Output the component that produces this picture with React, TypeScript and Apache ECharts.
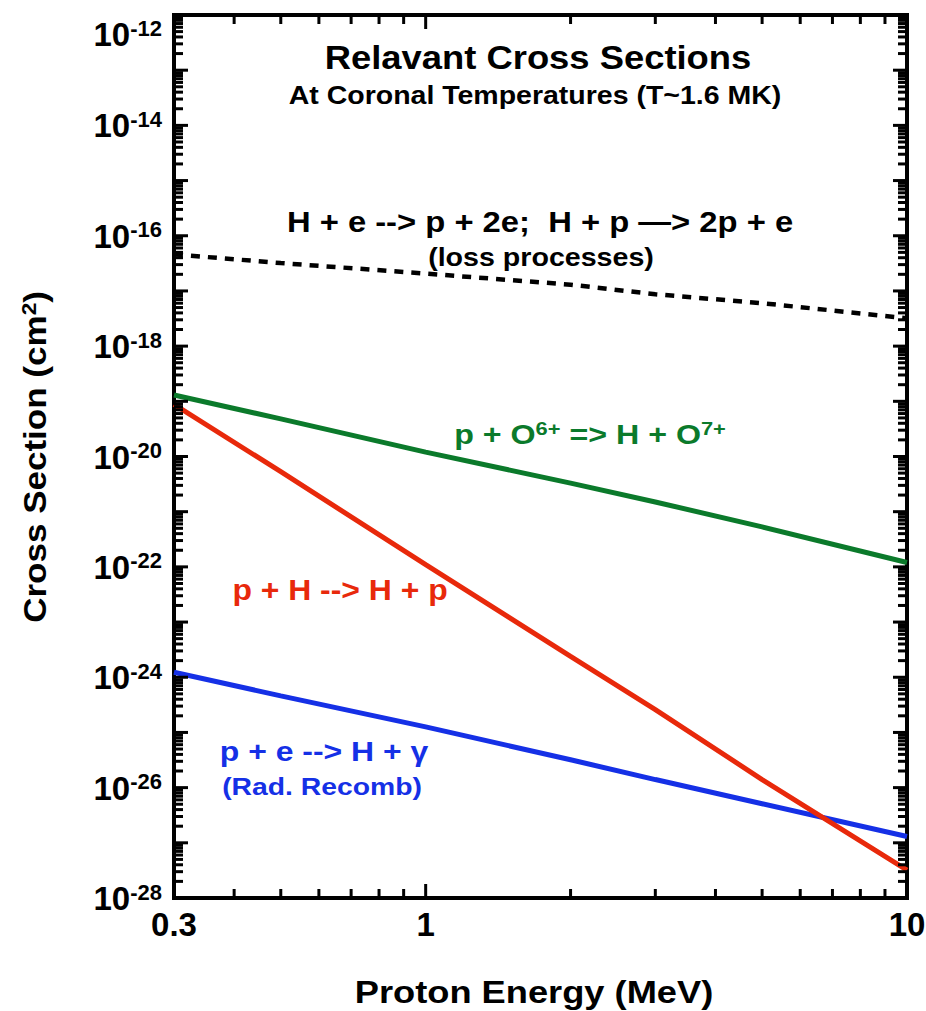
import React, { useEffect, useRef } from 'react';
import * as echarts from 'echarts';

const FONT = "'Liberation Sans', Arial, Helvetica, sans-serif";

// Axis ranges (real values; axes are drawn in log10 space)
const X_MIN = 0.3;
const X_MAX = 10;
const Y_MIN = 1e-28;
const Y_MAX = 1e-12;

// Tick labels
const X_TICK_LABELS = [0.3, 1, 10];
const Y_LABEL_EXPONENTS = [-28, -26, -24, -22, -20, -18, -16, -14, -12];

// Tick marks
const X_MAJOR_TICKS = [1];
const X_MINOR_TICKS = [0.4, 0.5, 0.6, 0.7, 0.8, 0.9, 2, 3, 4, 5, 6, 7, 8, 9];
const Y_DECADES = [-28, -27, -26, -25, -24, -23, -22, -21, -20, -19, -18, -17, -16, -15, -14, -13, -12];
const MINOR_MULTIPLIERS = [2, 3, 4, 5, 6, 7, 8, 9];

// Series values (Proton energy in MeV, cross sections in cm^2)
const ENERGY = [0.3, 0.5, 1, 2, 3, 5, 10];
const LOSS = [4.6e-17, 3.2e-17, 2.06e-17, 1.3e-17, 8.7e-18, 6.0e-18, 3.2e-18];
const O6_CX = [1.3e-19, 4.8e-20, 1.2e-20, 3.3e-21, 1.5e-21, 5.3e-22, 1.2e-22];
const H_CX = [8.8e-20, 5.3e-21, 1.1e-22, 2.4e-24, 2.6e-25, 1.4e-26, 3.2e-28];
const RAD_RECOMB = [1.23e-24, 4.6e-25, 1.26e-25, 3.2e-26, 1.4e-26, 5.1e-27, 1.3e-27];

const GREEN = '#0b7a2b';
const RED = '#e8290b';
const BLUE = '#1530e6';

const lg = Math.log10;
const pairs = (ys: number[]) => ENERGY.map((e, i) => [lg(e), lg(ys[i])]);

const MAJOR_LEN = 14;
const MINOR_LEN = 9;

// Tick descriptors: [value in log10, length]
function xTickList() {
  const d: number[][] = [];
  X_MAJOR_TICKS.forEach((v) => d.push([lg(v), MAJOR_LEN]));
  X_MINOR_TICKS.forEach((v) => d.push([lg(v), MINOR_LEN]));
  return d;
}
function yTickList() {
  const d: number[][] = [];
  Y_DECADES.forEach((e) => {
    d.push([e, MAJOR_LEN]);
    if (e < -12) MINOR_MULTIPLIERS.forEach((m) => d.push([e + lg(m), MINOR_LEN]));
  });
  return d;
}

const tickRenderer = (params: any, api: any) => {
  const cs = params.coordSys;
  const st = { stroke: '#000', lineWidth: 3 };
  const children: any[] = [];
  const bottom = cs.y + cs.height;
  const right = cs.x + cs.width;
  xTickList().forEach(([v, len]) => {
    const x = api.coord([v, lg(Y_MIN)])[0];
    children.push({ type: 'line', shape: { x1: x, y1: bottom, x2: x, y2: bottom - len }, style: st });
    children.push({ type: 'line', shape: { x1: x, y1: cs.y, x2: x, y2: cs.y + len }, style: st });
  });
  yTickList().forEach(([v, len]) => {
    const y = api.coord([lg(X_MIN), v])[1];
    children.push({ type: 'line', shape: { x1: cs.x, y1: y, x2: cs.x + len, y2: y }, style: st });
    children.push({ type: 'line', shape: { x1: right, y1: y, x2: right - len, y2: y }, style: st });
  });
  return { type: 'group', children };
};

function txt(text: string, x: number, y: number, size: number, color: string, scaleX: number, extra: any = {}) {
  return {
    type: 'text',
    x,
    y,
    scaleX,
    z: 100,
    silent: true,
    ...extra,
    style: {
      text,
      fontSize: size,
      fontWeight: 'bold',
      fontFamily: FONT,
      fill: color,
      align: 'center',
      verticalAlign: 'middle',
      ...(extra.style || {}),
    },
  };
}

export default function App() {
  const ref = useRef<HTMLDivElement>(null);
  useEffect(() => {
    const chart = echarts.init(ref.current!, null, { renderer: 'svg' });
    const labelRich = {
      b: { fontSize: 33, fontWeight: 'bold', fontFamily: FONT, color: '#000', lineHeight: 34, verticalAlign: 'bottom' },
      s: { fontSize: 22, fontWeight: 'bold', fontFamily: FONT, color: '#000', lineHeight: 22, verticalAlign: 'top' },
      gap: { fontSize: 10, lineHeight: 38 },
    };
    const option: any = {
      animation: false,
      backgroundColor: '#fff',
      grid: {
        left: 174,
        right: 19,
        top: 15,
        bottom: 113,
        containLabel: false,
        outerBoundsMode: 'none',
        show: true,
        borderColor: '#000',
        borderWidth: 4,
        backgroundColor: 'transparent',
      },
      xAxis: {
        type: 'value',
        min: lg(X_MIN),
        max: lg(X_MAX),
        axisLine: { show: false },
        axisTick: { show: false },
        splitLine: { show: false },
        axisLabel: {
          margin: 10,
          fontSize: 33,
          fontWeight: 'bold',
          fontFamily: FONT,
          color: '#000',
          showMinLabel: true,
          showMaxLabel: true,
          formatter: (v: number) => {
            const m = X_TICK_LABELS.find((l) => Math.abs(lg(l) - v) < 1e-4);
            return m !== undefined ? String(m) : '';
          },
        },
      },
      yAxis: {
        type: 'value',
        min: lg(Y_MIN),
        max: lg(Y_MAX),
        interval: 2,
        axisLine: { show: false },
        axisTick: { show: false },
        splitLine: { show: false },
        axisLabel: {
          margin: 12,
          showMinLabel: true,
          showMaxLabel: true,
          formatter: (v: number) => {
            const e = Math.round(v);
            if (!Y_LABEL_EXPONENTS.includes(e)) return '';
            return e === -12 ? `{gap| }\n{b|10}{s|${e}}` : `{b|10}{s|${e}}`;
          },
          rich: labelRich,
        },
      },
      series: [
        {
          name: 'ticks',
          type: 'custom',
          silent: true,
          clip: false,
          z: 5,
          data: [[lg(X_MIN), lg(Y_MIN)]],
          encode: { x: 0, y: 1 },
          renderItem: tickRenderer,
        },
        {
          name: 'loss',
          type: 'line',
          data: pairs(LOSS),
          showSymbol: false,
          lineStyle: { color: '#000', width: 4.5, type: [9, 8] },
          z: 3,
        },
        {
          name: 'rad recomb',
          type: 'line',
          data: pairs(RAD_RECOMB),
          showSymbol: false,
          lineStyle: { color: BLUE, width: 5 },
          z: 3,
        },
        {
          name: 'p+H',
          type: 'line',
          data: pairs(H_CX),
          showSymbol: false,
          lineStyle: { color: RED, width: 5 },
          z: 3,
        },
        {
          name: 'p+O6',
          type: 'line',
          data: pairs(O6_CX),
          showSymbol: false,
          lineStyle: { color: GREEN, width: 5 },
          z: 3,
        },
      ],
      graphic: [
        txt('Relavant Cross Sections', 538, 57, 34, '#000', 1.07),
        txt('At Coronal Temperatures (T~1.6 MK)', 535, 96, 25, '#000', 1.14),
        txt('H + e --> p + 2e;  H + p \u2014> 2p + e', 540, 222, 29, '#000', 1.13),
        txt('(loss processes)', 541, 257, 26, '#000', 1.1),
        txt('', 590, 433.5, 28, GREEN, 1.15, {
          style: {
            text: '{b|p + O}{s|6+}{b| => H + O}{s|7+}',
            rich: {
              b: { fontSize: 28, fontWeight: 'bold', fontFamily: FONT, fill: GREEN, lineHeight: 30, verticalAlign: 'bottom' },
              s: { fontSize: 19, fontWeight: 'bold', fontFamily: FONT, fill: GREEN, lineHeight: 19, padding: [0, 0, 26, 0], verticalAlign: 'top' },
            },
          },
        }),
        txt('p + H --> H + p', 340, 590, 29, RED, 1.1),
        txt('p + e --> H + \u03b3', 324, 751, 28, BLUE, 1.14),
        txt('(Rad. Recomb)', 322, 787, 24, BLUE, 1.18),
        txt('Proton Energy (MeV)', 534, 992, 31, '#000', 1.17),
        txt('', 35, 457, 31, '#000', 1.13, {
          rotation: Math.PI / 2,
          style: {
            text: '{b|Cross Section (cm}{s|2}{b|)}',
            rich: {
              b: { fontSize: 31, fontWeight: 'bold', fontFamily: FONT, fill: '#000', lineHeight: 32, verticalAlign: 'bottom' },
              s: { fontSize: 20, fontWeight: 'bold', fontFamily: FONT, fill: '#000', lineHeight: 20, padding: [0, 0, 18, 0], verticalAlign: 'top' },
            },
          },
        }),
      ],
    };
    chart.setOption(option);
    return () => chart.dispose();
  }, []);
  return (
    <div
      ref={ref}
      style={{ position: 'absolute', left: 0, top: 0, width: 926, height: 1011, background: '#fff' }}
    />
  );
}
